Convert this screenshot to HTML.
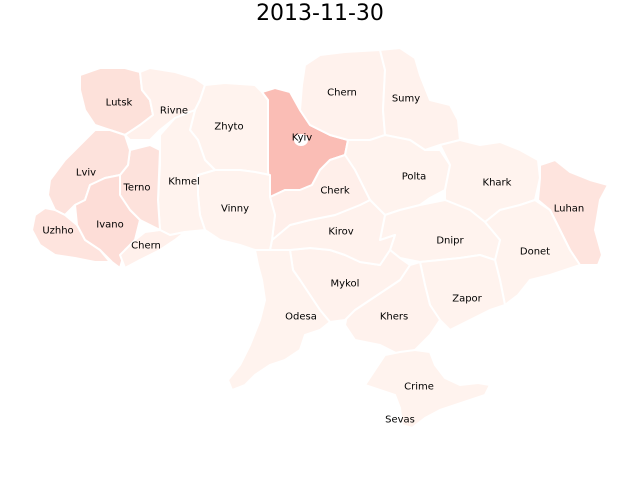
<!DOCTYPE html>
<html><head><meta charset="utf-8"><style>
body{margin:0;background:#fff;}
svg{display:block;font-family:"DejaVu Sans","Liberation Sans",sans-serif;}
</style></head><body>
<svg id="map" width="640" height="480" viewBox="0 0 640 480">
<text x="320" y="20" text-anchor="middle" font-size="22" fill="#000">2013-11-30</text>
<g id="regions"></g><g id="labels"></g>
</svg>
<script>
const regionNames=["Lutsk","Rivne","Zhyto","Kyiv","Chern","Sumy","Polta","Khark","Luhan","Donet","Dnipr","Zapor","Khers","Crime","Mykol","Odesa","Kirov","Cherk","Vinny","Khmel","Terno","Lviv","Ivano","Uzhho","Chern2"];
const regionValues=[0.22,0.04,0.02,0.6,0.03,0.03,0.02,0.02,0.18,0.02,0.02,0.02,0.03,0.02,0.03,0.02,0.03,0.06,0.02,0.02,0.2,0.2,0.26,0.18,0.05];
const labelText=["Lutsk","Rivne","Zhyto","Kyiv","Chern","Sumy","Polta","Khark","Luhan","Donet","Dnipr","Zapor","Khers","Crime","Mykol","Odesa","Kirov","Cherk","Vinny","Khmel","Terno","Lviv","Ivano","Uzhho","Chern","Sevas"];
const labelPos=[[119,102],[174,110],[229,126],[302,137],[342,92],[406,98],[414,176],[497,182],[569,208],[535,251],[450,240],[467,298],[394,316],[419,386],[345,283],[301,316],[341,231],[335,190],[235,208],[184,181],[137,187],[86,172],[110,224],[58,230],[146,245],[400,419]];
const shapes=[
"80,75 100,68 125,68 140,72 142,90 150,100 153,115 140,125 125,135 110,130 95,125 85,110 80,90",
"140,72 150,68 175,72 195,78 205,85 200,100 195,110 175,118 160,130 150,140 130,140 125,135 140,125 153,115 150,100 142,90",
"205,85 225,83 255,85 262,92 268,100 268,140 270,175 255,172 240,170 215,170 205,160 198,140 190,130 195,110 200,100",
"262,92 275,88 290,92 300,110 310,125 330,135 348,140 345,155 330,160 320,170 312,185 300,190 285,190 270,197 268,170 268,140 268,100",
"305,65 320,55 345,52 380,50 385,70 383,110 385,135 370,140 348,140 330,135 310,125 300,110 302,85",
"380,50 400,48 415,58 420,75 430,100 450,105 458,120 460,140 440,145 425,150 410,140 385,135 383,110 385,70",
"348,140 370,140 385,135 410,140 425,150 440,150 450,165 445,190 430,198 420,205 400,210 385,215 370,200 365,190 355,170 345,155",
"440,145 460,140 480,145 500,142 520,150 538,160 540,178 535,200 520,205 500,210 485,222 470,210 445,200 445,190 450,165",
"540,165 555,160 570,172 590,180 608,185 600,200 595,230 602,255 598,265 580,265 570,250 560,230 550,210 538,200 540,178",
"535,200 550,210 560,230 570,250 580,265 565,270 550,275 530,280 518,295 505,305 500,280 495,260 500,240 485,222 500,210 520,205",
"385,215 400,210 420,205 445,200 470,210 485,222 500,240 495,260 480,255 460,258 440,260 420,262 400,258 390,250 395,235 380,240",
"420,262 440,260 460,258 480,255 495,260 500,280 505,305 490,310 470,320 450,330 440,320 430,305 425,285",
"350,300 355,310 370,300 385,290 400,280 410,265 420,262 425,285 430,305 440,320 430,335 415,350 400,355 380,345 355,340 345,325",
"385,355 400,352 415,350 430,352 435,365 445,378 460,385 478,383 490,385 485,395 470,400 455,405 440,410 425,418 412,428 402,425 400,408 395,395 380,390 365,385 375,370",
"290,250 310,248 330,250 345,255 360,262 380,265 390,250 400,258 410,265 400,280 385,290 370,300 355,310 345,320 330,322 320,310 310,295 300,280 293,270",
"255,250 270,250 290,250 293,270 300,280 310,295 320,310 330,322 320,330 305,335 300,350 285,360 270,365 255,375 245,385 232,390 228,380 240,365 250,345 260,320 265,300 262,280 258,265",
"272,240 290,225 310,220 335,215 360,205 370,200 385,215 380,240 395,235 390,250 380,265 360,262 345,255 330,250 310,248 290,250 270,250",
"270,197 285,190 300,190 312,185 320,170 330,160 345,155 355,170 365,190 370,200 360,205 335,215 310,220 290,225 272,240 275,215",
"198,175 215,170 240,170 255,172 270,175 270,197 275,215 272,240 270,250 255,250 240,245 220,240 205,230 200,215 198,195",
"160,135 175,118 195,110 190,130 198,140 205,160 215,170 198,175 198,195 200,215 205,230 185,232 170,235 160,230 158,200 160,165",
"130,150 150,145 160,150 158,200 160,230 150,225 140,220 130,210 120,195 120,175 128,165",
"50,180 65,160 80,145 95,130 110,130 125,135 130,150 128,165 120,175 105,178 90,185 85,200 75,205 65,215 55,210 48,195",
"75,205 85,200 90,185 105,178 120,175 120,195 130,210 140,220 135,240 125,250 120,268 112,262 100,250 85,240 77,225",
"35,215 45,208 55,210 65,215 77,225 85,240 100,250 110,262 95,262 75,258 55,255 40,245 32,230",
"120,255 135,240 145,232 160,230 170,235 185,232 175,240 160,250 140,260 125,268"
];
function colorScale(v){
  const t=Math.max(0,Math.min(1,v))*0.5;
  const a=[255,245,240], b=[239,59,44];
  const c=a.map((x,i)=>Math.round(x+(b[i]-x)*t));
  return `rgb(${c[0]},${c[1]},${c[2]})`;
}
const NS="http://www.w3.org/2000/svg";
const gR=document.getElementById('regions'), gL=document.getElementById('labels');
regionNames.forEach((n,i)=>{
  const p=document.createElementNS(NS,'polygon');
  p.setAttribute('points',shapes[i]);
  p.setAttribute('fill',colorScale(regionValues[i]));
  p.setAttribute('stroke','#fff');p.setAttribute('stroke-width','2');p.setAttribute('stroke-linejoin','round');
  
  
  gR.appendChild(p);
});
const hole=document.createElementNS(NS,'ellipse');
hole.setAttribute('cx','301');hole.setAttribute('cy','140');hole.setAttribute('rx','7');hole.setAttribute('ry','6');hole.setAttribute('fill','#fff');


gR.appendChild(hole);
labelText.forEach((t,i)=>{
  const tx=document.createElementNS(NS,'text');
  tx.setAttribute('x',labelPos[i][0]);tx.setAttribute('y',labelPos[i][1]+3.5);
  tx.setAttribute('text-anchor','middle');tx.setAttribute('font-size','10');tx.setAttribute('fill','#000');
  tx.textContent=t;
  
  
  gL.appendChild(tx);
});
</script>
</body></html>
